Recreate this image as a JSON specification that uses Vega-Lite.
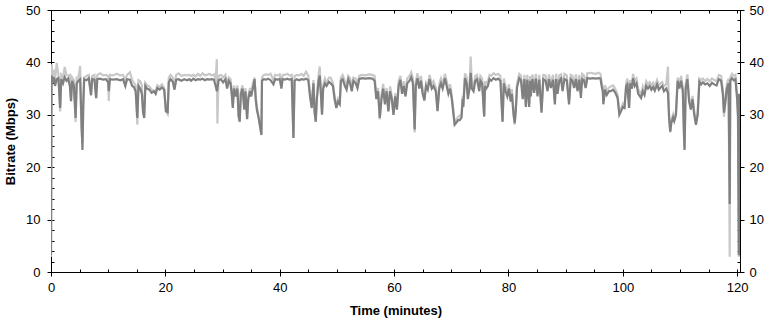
{
"$schema":"https://vega.github.io/schema/vega-lite/v6.json",
"width":689,"height":262,
"autosize":"none",
"padding":{"left":51,"top":10,"right":31,"bottom":50},
"background":"white",
"config":{"view":{"stroke":"#000","strokeWidth":1},"axis":{"domainColor":"#000","tickColor":"#000","labelColor":"#000","titleColor":"#000","labelFont":"Liberation Sans","titleFont":"Liberation Sans","labelFontSize":13,"titleFontSize":13,"grid":false}},
"data":{"values":[
{"t":0,"a":3.2,"m":3.3},{"t":0.1,"a":37.5,"m":40},{"t":0.3,"a":36.5,"m":38},{"t":0.5,"a":37.2,"m":38.5},{"t":0.7,"a":35.5,"m":37},{"t":1.0,"a":36.8,"m":40.3},{"t":1.3,"a":37,"m":38},{"t":1.6,"a":31.3,"m":31},{"t":1.8,"a":36.8,"m":38},{"t":2.1,"a":36,"m":37.5},{"t":2.4,"a":37.2,"m":39.5},{"t":2.7,"a":36.5,"m":38},{"t":3.0,"a":36.9,"m":37.8},{"t":3.3,"a":35.5,"m":38},{"t":3.5,"a":32.6,"m":33},{"t":3.7,"a":36.5,"m":37.5},{"t":4.0,"a":35.5,"m":37},{"t":4.3,"a":29.4,"m":29},{"t":4.5,"a":36,"m":37.5},{"t":4.8,"a":36.5,"m":37.5},{"t":5.1,"a":36.8,"m":39.7},{"t":5.3,"a":30,"m":28},{"t":5.5,"a":23.3,"m":25},{"t":5.65,"a":32,"m":33},{"t":5.8,"a":36.8,"m":37.5},{"t":6.2,"a":36.6,"m":37.8},{"t":6.6,"a":37,"m":38},{"t":7.0,"a":33.8,"m":34},{"t":7.2,"a":36.8,"m":37.8},{"t":7.6,"a":36.7,"m":38},{"t":7.9,"a":33.2,"m":33.5},{"t":8.1,"a":36.8,"m":38},{"t":8.6,"a":36.9,"m":38.3},{"t":9.1,"a":36.7,"m":37.9},{"t":9.6,"a":36.8,"m":38},{"t":10.0,"a":36.2,"m":37.8},{"t":10.1,"a":34.5,"m":33},{"t":10.3,"a":36.8,"m":38},{"t":10.9,"a":36.7,"m":37.9},{"t":11.5,"a":36.8,"m":38.2},{"t":12.1,"a":36.6,"m":37.9},{"t":12.6,"a":36.8,"m":38},{"t":13.0,"a":35.5,"m":37},{"t":13.3,"a":36.8,"m":38},{"t":13.8,"a":36.7,"m":38.5},{"t":14.2,"a":35.5,"m":37},{"t":14.5,"a":35.3,"m":36.5},{"t":14.8,"a":34.5,"m":36},{"t":15.1,"a":29.4,"m":28.5},{"t":15.3,"a":35.5,"m":37},{"t":15.6,"a":35,"m":36.8},{"t":15.9,"a":34,"m":36},{"t":16.1,"a":30.5,"m":31},{"t":16.3,"a":29.4,"m":30},{"t":16.5,"a":35.5,"m":36.5},{"t":16.8,"a":35,"m":36},{"t":17.2,"a":34.8,"m":35.8},{"t":17.6,"a":34.2,"m":35.2},{"t":18.0,"a":34.5,"m":35},{"t":18.3,"a":34,"m":34.8},{"t":18.6,"a":35.1,"m":36},{"t":19.0,"a":34.8,"m":35.7},{"t":19.4,"a":35.2,"m":36.2},{"t":19.8,"a":34.8,"m":35.5},{"t":20.1,"a":30.7,"m":31},{"t":20.4,"a":30.5,"m":30.5},{"t":20.6,"a":36.2,"m":37.5},{"t":20.9,"a":36.8,"m":38},{"t":21.3,"a":36.3,"m":37.5},{"t":21.6,"a":34.8,"m":36},{"t":21.9,"a":36.7,"m":38},{"t":22.3,"a":36.8,"m":38.3},{"t":22.8,"a":36.5,"m":37.8},{"t":23.3,"a":36.8,"m":38},{"t":23.8,"a":36.6,"m":37.9},{"t":24.2,"a":36.8,"m":38},
{"t":24.5,"a":36.5,"m":37.8},{"t":24.9,"a":36.9,"m":38},{"t":25.3,"a":36.6,"m":37.7},{"t":25.7,"a":36.8,"m":38.2},{"t":26.1,"a":36.7,"m":37.8},{"t":26.5,"a":36.9,"m":38.3},{"t":26.9,"a":36.6,"m":37.9},{"t":27.3,"a":36.8,"m":38},{"t":27.7,"a":36.7,"m":38.2},{"t":28.1,"a":36.8,"m":37.9},{"t":28.5,"a":36.7,"m":38.1},{"t":28.8,"a":35.5,"m":37},{"t":29.0,"a":34.5,"m":41},{"t":29.1,"a":35,"m":28.7},{"t":29.3,"a":36.6,"m":37.8},{"t":29.7,"a":36.8,"m":38},{"t":30.1,"a":36.2,"m":37.5},{"t":30.5,"a":36.8,"m":38},{"t":30.8,"a":35,"m":36},{"t":31.1,"a":36.5,"m":37.5},{"t":31.4,"a":36,"m":37.2},{"t":31.6,"a":34,"m":35},{"t":31.8,"a":31.3,"m":32},{"t":32.0,"a":35,"m":36},{"t":32.3,"a":33.5,"m":34.5},{"t":32.6,"a":35,"m":36},{"t":32.8,"a":30,"m":30},{"t":33.0,"a":28.7,"m":29},{"t":33.2,"a":34,"m":35},{"t":33.5,"a":35,"m":36},{"t":33.8,"a":31,"m":32},{"t":34.0,"a":34.5,"m":35.5},{"t":34.3,"a":29.2,"m":29.5},{"t":34.5,"a":33,"m":34},{"t":34.8,"a":34.5,"m":35.5},{"t":35.0,"a":33.5,"m":34.5},{"t":35.3,"a":35,"m":36.3},{"t":35.6,"a":36.8,"m":37.5},{"t":35.8,"a":33,"m":34},{"t":36.0,"a":31,"m":32},{"t":36.3,"a":29.5,"m":30},{"t":36.6,"a":27.5,"m":28},{"t":36.8,"a":26.2,"m":26.5},{"t":36.9,"a":36.5,"m":37.5},{"t":37.2,"a":36.8,"m":38},{"t":37.6,"a":36.7,"m":38.1},{"t":38.0,"a":36.9,"m":38},{"t":38.4,"a":36.6,"m":38.2},{"t":38.9,"a":35.8,"m":37},{"t":39.2,"a":36.8,"m":38},{"t":39.6,"a":36.7,"m":37.9},{"t":40.0,"a":36.8,"m":38.1},{"t":40.3,"a":35,"m":36},{"t":40.5,"a":36.8,"m":38},{"t":40.9,"a":36.7,"m":38},{"t":41.3,"a":36.9,"m":38.2},{"t":41.7,"a":36.7,"m":37.9},{"t":42.1,"a":36.8,"m":38},{"t":42.4,"a":25.6,"m":26},{"t":42.6,"a":36.5,"m":37.8},{"t":43.0,"a":36.8,"m":38},{"t":43.4,"a":36.6,"m":37.9},{"t":43.8,"a":36.8,"m":38.2},{"t":44.2,"a":36.7,"m":37.8},{"t":44.6,"a":36.9,"m":38.6},{"t":45.0,"a":36.6,"m":37.8},{"t":45.3,"a":33.5,"m":34.5},{"t":45.6,"a":31.3,"m":32},{"t":45.9,"a":36,"m":37},{"t":46.1,"a":30.5,"m":31},{"t":46.3,"a":28.7,"m":29},{"t":46.5,"a":33,"m":34},{"t":46.8,"a":36.5,"m":38},{"t":47.0,"a":37.5,"m":39.6},{"t":47.2,"a":34,"m":35},{"t":47.4,"a":30,"m":30.5},{"t":47.6,"a":35,"m":36},{"t":47.9,"a":36,"m":37.3},{"t":48.2,"a":35.5,"m":36.5},{"t":48.6,"a":36.3,"m":37.5},
{"t":48.9,"a":36,"m":37.5},{"t":49.3,"a":35.5,"m":36.5},{"t":49.6,"a":33,"m":34},{"t":49.9,"a":31.3,"m":32},{"t":50.2,"a":32.5,"m":33.5},{"t":50.5,"a":32,"m":33},{"t":50.7,"a":36.5,"m":37.5},{"t":51.0,"a":36.8,"m":38},{"t":51.4,"a":35.5,"m":36.8},{"t":51.7,"a":34.8,"m":36},{"t":52.0,"a":36.8,"m":37.8},{"t":52.3,"a":36,"m":37.4},{"t":52.6,"a":34.5,"m":35.8},{"t":52.9,"a":36.5,"m":37.5},{"t":53.3,"a":36,"m":37.3},{"t":53.6,"a":35.1,"m":36.2},{"t":53.9,"a":36.8,"m":37.8},{"t":54.4,"a":37,"m":38},{"t":55.0,"a":36.9,"m":37.9},{"t":55.6,"a":37,"m":38.1},{"t":56.2,"a":36.9,"m":38},{"t":56.6,"a":36.5,"m":37.8},{"t":56.9,"a":33,"m":34},{"t":57.2,"a":34.5,"m":35.5},{"t":57.5,"a":29.4,"m":29.5},{"t":57.8,"a":33,"m":34.2},{"t":58.1,"a":35,"m":36.3},{"t":58.4,"a":32,"m":33},{"t":58.7,"a":34.5,"m":35.5},{"t":59.0,"a":30.7,"m":31},{"t":59.3,"a":34.5,"m":35.8},{"t":59.6,"a":33,"m":34},{"t":59.9,"a":30,"m":30.5},{"t":60.2,"a":33.5,"m":34.5},{"t":60.5,"a":31,"m":32},{"t":60.8,"a":35.5,"m":36.8},{"t":61.1,"a":36.7,"m":37.8},{"t":61.4,"a":34,"m":35},{"t":61.7,"a":35.5,"m":36.8},{"t":62.0,"a":33.5,"m":34.5},{"t":62.3,"a":36,"m":37.3},{"t":62.7,"a":36.5,"m":37.8},{"t":63.0,"a":37.2,"m":38.5},{"t":63.3,"a":36,"m":37.3},{"t":63.6,"a":27.2,"m":27},{"t":63.8,"a":35.5,"m":36.8},{"t":64.1,"a":37,"m":38.3},{"t":64.4,"a":35,"m":36.3},{"t":64.7,"a":36.5,"m":37.8},{"t":65.0,"a":34,"m":35.2},{"t":65.3,"a":32.8,"m":33},{"t":65.6,"a":35.5,"m":36.5},{"t":65.9,"a":34.8,"m":36},{"t":66.2,"a":36.8,"m":38},{"t":66.6,"a":35,"m":36.2},{"t":66.9,"a":35.5,"m":36.8},{"t":67.3,"a":34.5,"m":35.6},{"t":67.6,"a":30.7,"m":31.3},{"t":67.9,"a":35,"m":36.2},{"t":68.2,"a":36,"m":37.3},{"t":68.5,"a":35,"m":36.3},{"t":68.9,"a":37,"m":38.2},{"t":69.2,"a":35.5,"m":36.8},{"t":69.5,"a":34,"m":35.3},{"t":69.8,"a":35,"m":36.2},{"t":70.1,"a":33,"m":34},{"t":70.4,"a":30,"m":31},{"t":70.6,"a":28.1,"m":28.5},{"t":70.9,"a":28.5,"m":29.5},{"t":71.2,"a":29,"m":30},{"t":71.5,"a":29,"m":30.2},{"t":71.8,"a":29.5,"m":30.5},{"t":72.0,"a":33,"m":34},{"t":72.1,"a":31.5,"m":32},{"t":72.4,"a":37,"m":38.3},{"t":72.7,"a":36,"m":37.5},{"t":72.9,"a":33,"m":34},{"t":73.2,"a":35,"m":36.2},
{"t":73.4,"a":38,"m":41.5},{"t":73.6,"a":35,"m":36.5},{"t":73.9,"a":34.5,"m":35.8},{"t":74.2,"a":36.5,"m":37.8},{"t":74.5,"a":36.8,"m":38},{"t":74.9,"a":34.5,"m":35.5},{"t":75.1,"a":36.5,"m":37.8},{"t":75.4,"a":36,"m":37.3},{"t":75.76,"a":29.7,"m":30},{"t":75.9,"a":35.5,"m":36.8},{"t":76.1,"a":35,"m":36.3},{"t":76.4,"a":35.5,"m":36.8},{"t":76.7,"a":36.8,"m":38},{"t":77.0,"a":36.5,"m":37.8},{"t":77.4,"a":37,"m":38.3},{"t":77.8,"a":36.7,"m":38},{"t":78.2,"a":36.9,"m":38.2},{"t":78.6,"a":36.5,"m":37.8},{"t":78.97,"a":28.7,"m":29},{"t":79.2,"a":36,"m":37.3},{"t":79.5,"a":34.5,"m":35.8},{"t":79.8,"a":33.5,"m":34.8},{"t":80.1,"a":35,"m":36.2},{"t":80.4,"a":32.5,"m":33.5},{"t":80.6,"a":34,"m":35.3},{"t":80.9,"a":30,"m":31},{"t":81.1,"a":28.4,"m":28.5},{"t":81.3,"a":31,"m":31.8},
{"t":81.5,"a":35.2,"m":36.3},{"t":81.9,"a":37,"m":38.2},{"t":82.2,"a":36.6,"m":37.9},{"t":82.5,"a":33,"m":34},{"t":82.8,"a":36.8,"m":38},{"t":83.05,"a":31.5,"m":32},{"t":83.3,"a":36.7,"m":38},{"t":83.63,"a":31.5,"m":32.5},{"t":83.8,"a":36.5,"m":37.8},{"t":83.92,"a":33.5,"m":34.5},{"t":84.2,"a":36.8,"m":38.1},{"t":84.5,"a":34.2,"m":35.2},{"t":84.8,"a":36.9,"m":38.2},{"t":85.09,"a":33.5,"m":34.5},{"t":85.4,"a":36.7,"m":38},{"t":85.79,"a":30.4,"m":31},{"t":86.1,"a":36.8,"m":38},{"t":86.5,"a":36.5,"m":37.9},{"t":86.84,"a":34.5,"m":35.6},{"t":87.1,"a":36.8,"m":38.1},{"t":87.42,"a":35.1,"m":36.3},{"t":87.8,"a":36.7,"m":38},{"t":88.12,"a":32,"m":33},{"t":88.35,"a":36.8,"m":38.2},{"t":88.59,"a":34,"m":35.2},{"t":88.9,"a":36.5,"m":37.9},{"t":89.2,"a":36.9,"m":38.1},{"t":89.46,"a":34.5,"m":35.5},{"t":89.8,"a":36.8,"m":38.2},{"t":90.2,"a":36.6,"m":37.9},{"t":90.6,"a":32,"m":33},{"t":90.9,"a":36.8,"m":38},{"t":91.2,"a":36.5,"m":37.8},{"t":91.5,"a":35.1,"m":36.2},{"t":91.8,"a":36.8,"m":38.1},{"t":92.08,"a":34.5,"m":35.6},{"t":92.4,"a":36.7,"m":38},{"t":92.67,"a":33.2,"m":34.5},{"t":92.9,"a":36.8,"m":38.2},{"t":93.2,"a":36.6,"m":37.9},{"t":93.5,"a":35.1,"m":36.2},{"t":93.8,"a":37,"m":38.3},{"t":94.3,"a":36.9,"m":38.4},{"t":94.8,"a":37,"m":38.3},{"t":95.3,"a":36.9,"m":38.2},{"t":95.8,"a":37,"m":38.4},{"t":96.1,"a":36.9,"m":38.2},{"t":96.3,"a":35.5,"m":36.5},{"t":96.5,"a":34.5,"m":35.8},{"t":96.6,"a":32,"m":33},{"t":96.9,"a":34.8,"m":36},{"t":97.2,"a":33.8,"m":35},{"t":97.6,"a":34.5,"m":35.6},
{"t":97.9,"a":34.5,"m":35.8},{"t":98.3,"a":34.8,"m":36},{"t":98.7,"a":34.2,"m":35.3},{"t":99.1,"a":33.2,"m":34.2},{"t":99.4,"a":30,"m":30.5},{"t":99.7,"a":30.7,"m":31.5},{"t":100.0,"a":31.5,"m":32.5},{"t":100.3,"a":31.3,"m":32},{"t":100.6,"a":35.5,"m":36.5},{"t":100.8,"a":35.8,"m":37.3},{"t":101.1,"a":31.3,"m":32},{"t":101.3,"a":36,"m":37},{"t":101.6,"a":35,"m":36.3},{"t":101.8,"a":37,"m":38.2},{"t":102.1,"a":35.5,"m":36.8},{"t":102.4,"a":36,"m":37.3},{"t":102.7,"a":34,"m":35.2},{"t":103.0,"a":33.5,"m":34.8},{"t":103.2,"a":33.2,"m":34},{"t":103.5,"a":34.5,"m":35.8},{"t":103.8,"a":33.8,"m":35},{"t":104.1,"a":35.5,"m":36.8},{"t":104.4,"a":35,"m":36.2},{"t":104.7,"a":35.5,"m":36.6},{"t":105.0,"a":34.8,"m":36},{"t":105.3,"a":35.3,"m":36.5},{"t":105.6,"a":34.6,"m":35.8},{"t":106.0,"a":35.8,"m":37},{"t":106.3,"a":34.8,"m":36},{"t":106.6,"a":35.2,"m":36.4},{"t":106.9,"a":35.5,"m":36.6},{"t":107.2,"a":34.5,"m":35.8},{"t":107.6,"a":35,"m":36.2},{"t":107.9,"a":34.2,"m":39.6},{"t":108.1,"a":29.4,"m":30},{"t":108.3,"a":26.8,"m":27},{"t":108.5,"a":28.5,"m":29.5},{"t":108.8,"a":29.5,"m":30.5},{"t":109.0,"a":28.8,"m":29.5},{"t":109.3,"a":30,"m":31},{"t":109.6,"a":36.5,"m":37.5},{"t":109.9,"a":35,"m":36.3},{"t":110.2,"a":36.5,"m":37.8},{"t":110.5,"a":34.5,"m":35.5},{"t":110.7,"a":26.2,"m":27},{"t":110.8,"a":23.3,"m":24},{"t":111.0,"a":35,"m":36.3},{"t":111.3,"a":36.8,"m":38.1},{"t":111.6,"a":32.5,"m":33.5},{"t":111.9,"a":31,"m":32},{"t":112.2,"a":33,"m":34},{"t":112.5,"a":30,"m":31},{"t":112.8,"a":28.1,"m":28.8},{"t":113.1,"a":30,"m":31},{"t":113.4,"a":36.3,"m":37.3},{"t":113.7,"a":35.8,"m":37},{"t":114.0,"a":36.2,"m":37.3},{"t":114.4,"a":35.8,"m":36.8},{"t":114.8,"a":36,"m":37.2},{"t":115.2,"a":35.5,"m":36.8},{"t":115.6,"a":36.1,"m":37.3},{"t":116.0,"a":35.8,"m":37},{"t":116.4,"a":35.6,"m":36.8},{"t":116.8,"a":36.8,"m":38},{"t":117.2,"a":36.5,"m":37.8},{"t":117.5,"a":34,"m":35.2},{"t":117.7,"a":30.4,"m":30},{"t":117.9,"a":32,"m":33},{"t":118.2,"a":35,"m":36.3},{"t":118.5,"a":36,"m":37.3},{"t":118.7,"a":13,"m":3.3},{"t":118.8,"a":36.5,"m":37.5},{"t":119.1,"a":37,"m":38.2},{"t":119.4,"a":36.6,"m":37.8},{"t":119.7,"a":36.8,"m":38},{"t":120.0,"a":33,"m":34},{"t":120.15,"a":29.5,"m":30.5},{"t":120.3,"a":3.2,"m":3.3},{"t":120.35,"a":34,"m":34},{"t":120.4,"a":5,"m":5},{"t":120.45,"a":3.2,"m":3.3}
]},
"layer":[
{"mark":{"type":"line","color":"#c8c8c8","strokeWidth":2.2,"yOffset":2,"clip":true},
 "encoding":{
  "x":{"field":"t","type":"quantitative","scale":{"domain":[0,120.5],"nice":false,"zero":false},
       "axis":{"orient":"bottom","values":[0,20,40,60,80,100,120],"tickSize":4,"labelPadding":5,"title":"Time (minutes)","titleFontWeight":"bold","titlePadding":10,"labelFlush":false}},
  "y":{"field":"m","type":"quantitative","scale":{"domain":[0,50],"nice":false},
       "axis":{"orient":"left","values":[0,10,20,30,40,50],"tickSize":4,"labelPadding":7,"title":"Bitrate (Mbps)","titleFontWeight":"bold","titlePadding":8,"labelFlush":false}}}},
{"mark":{"type":"line","color":"#808080","strokeWidth":2.2,"clip":true},
 "encoding":{
  "x":{"field":"t","type":"quantitative","scale":{"domain":[0,120.5],"nice":false,"zero":false},
       "axis":{"orient":"top","values":[0,5,10,15,20,25,30,35,40,45,50,55,60,65,70,75,80,85,90,95,100,105,110,115,120],"tickSize":-3,"labels":false,"title":null}},
  "y":{"field":"a","type":"quantitative","scale":{"domain":[0,50],"nice":false},
       "axis":{"orient":"right","values":[0,10,20,30,40,50],"tickSize":4,"labelPadding":5,"title":null,"labelFlush":false}}}},
{"mark":{"type":"point","opacity":0},
 "encoding":{
  "x":{"field":"t","type":"quantitative","scale":{"domain":[0,120.5],"nice":false,"zero":false},
       "axis":{"orient":"bottom","values":[0,5,10,15,20,25,30,35,40,45,50,55,60,65,70,75,80,85,90,95,100,105,110,115,120],"tickSize":-3,"labels":false,"title":null}},
  "y":{"field":"a","type":"quantitative","scale":{"domain":[0,50],"nice":false},
       "axis":{"orient":"left","values":[0,2,4,6,8,10,12,14,16,18,20,22,24,26,28,30,32,34,36,38,40,42,44,46,48,50],"tickSize":-3,"labels":false,"title":null}}}},
{"mark":{"type":"point","opacity":0},
 "encoding":{
  "x":{"field":"t","type":"quantitative","scale":{"domain":[0,120.5],"nice":false,"zero":false},"axis":null},
  "y":{"field":"a","type":"quantitative","scale":{"domain":[0,50],"nice":false},
       "axis":{"orient":"right","values":[0,2,4,6,8,10,12,14,16,18,20,22,24,26,28,30,32,34,36,38,40,42,44,46,48,50],"tickSize":-3,"labels":false,"title":null}}}}
],
"resolve":{"axis":{"x":"independent","y":"independent"}}
}
